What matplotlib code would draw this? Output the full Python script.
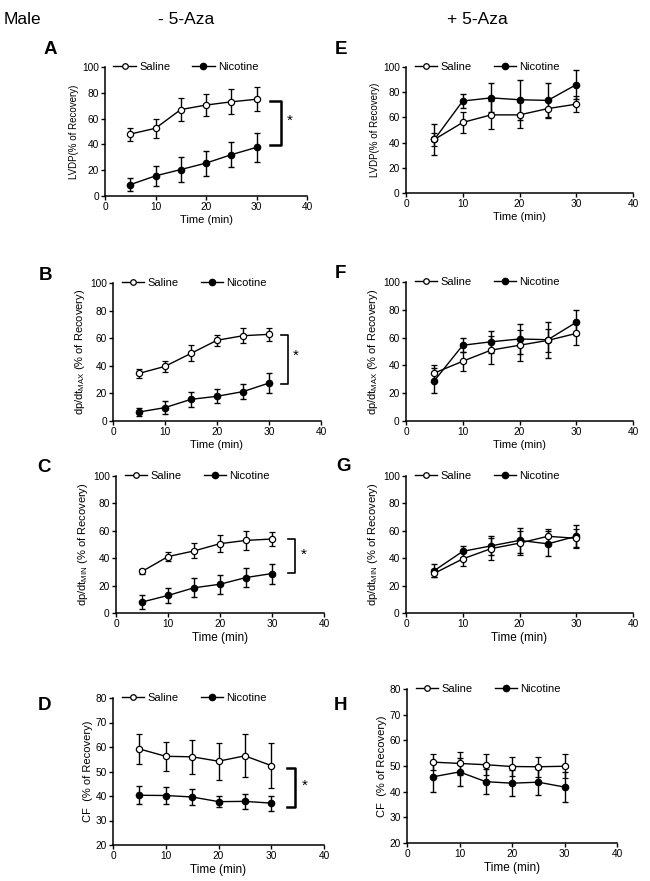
import matplotlib
matplotlib.use("Agg")
import matplotlib.pyplot as plt
from matplotlib.lines import Line2D

plt.rcParams['font.family'] = ['Liberation Sans', 'DejaVu Sans']
plt.rcParams['mathtext.fontset'] = 'custom'
plt.rcParams['mathtext.rm'] = 'Liberation Sans'

time = [5, 10, 15, 20, 25, 30]
series_names = ["Saline", "Nicotine"]

A_sal = [48, 52.5, 67, 70.5, 73, 75]
A_sal_err = [5, 7.5, 8.8, 8.5, 9.6, 9.2]
A_nic = [8.8, 15.6, 20.5, 25.5, 32, 37.7]
A_nic_err = [5.2, 7.8, 10, 9.7, 9.6, 11.2]

E_sal = [42.5, 56, 62, 62, 67, 70.5]
E_sal_err = [5.5, 8.5, 11, 10.5, 7, 6.5]
E_nic = [42.5, 73, 75.5, 74, 73.5, 86]
E_nic_err = [12, 5.5, 11.5, 16, 13.7, 11.5]

B_sal = [34.5, 39.6, 49, 58.5, 61.8, 62.8]
B_sal_err = [3, 4, 5.8, 4, 5.3, 4.7]
B_nic = [6.5, 9.7, 15.7, 17.9, 21.3, 27.5]
B_nic_err = [3, 4.5, 5.3, 5.2, 5.2, 7]

F_sal = [34.5, 43, 51, 54.5, 58, 63]
F_sal_err = [5.5, 7, 10, 11, 8.5, 8]
F_nic = [29, 54.5, 57, 59, 58.5, 71]
F_nic_err = [9, 5, 8, 11, 13, 9]

C_sal = [30.3, 41.2, 45.3, 50.6, 53, 54]
C_sal_err = [1.7, 3.6, 5.5, 6.4, 7, 5.3]
C_nic = [8, 12.8, 18.4, 21, 25.9, 28.8]
C_nic_err = [5, 5.8, 7, 7, 7, 7.3]

G_sal = [29, 39.5, 47, 51, 56, 54.5]
G_sal_err = [3, 5, 8, 9, 5, 7]
G_nic = [31, 45, 49, 53, 50.5, 56]
G_nic_err = [5, 4, 7, 9, 9, 8]

D_sal = [59.2, 56.2, 56, 54.2, 56.4, 52.4]
D_sal_err = [6, 6, 7, 7.5, 8.8, 9.2]
D_nic = [40.3, 40.2, 39.6, 37.7, 37.8, 37.1]
D_nic_err = [3.7, 3.6, 3.1, 2.2, 3, 3.1]

H_sal = [51.5, 51, 50.5, 49.8, 49.7, 49.9]
H_sal_err = [3, 4.4, 4, 3.8, 4, 4.6]
H_nic = [45.8, 47.7, 43.9, 43.3, 43.7, 41.8]
H_nic_err = [5.9, 5.6, 5, 5, 5.1, 6]

ylab_lvdp = "LVDP(% of Recovery)"
ylab_max = r"dp/dt$_\mathregular{MAX}$ (% of Recovery)"
ylab_min = r"dp/dt$_\mathregular{MIN}$ (% of Recovery)"
ylab_cf = "CF  (% of Recovery)"
xlab = "Time (min)"

fig = plt.figure(figsize=(6.5, 8.81), dpi=100)
W, H = 650, 881

def ax_at(x0, x1, y0, y1):
    return fig.add_axes([x0 / W, 1 - y1 / H, (x1 - x0) / W, (y1 - y0) / H])

def panel(box, sal, sal_err, nic, nic_err, ylim, yticks, ylabel, yfs, xfs,
          letter, lpos, bracket=None, blw=1.2):
    ax = ax_at(*box)
    ax.errorbar(time, nic, yerr=nic_err, color='black', marker='o', ms=4.5,
                mfc='black', mec='black', lw=1.0, capsize=2.5, elinewidth=1.0,
                capthick=1.0, zorder=3)
    ax.errorbar(time, sal, yerr=sal_err, color='black', marker='o', ms=4.5,
                mfc='white', mec='black', mew=0.9, lw=1.0, capsize=2.5,
                elinewidth=1.0, capthick=1.0, zorder=4)
    ax.set_xlim(0, 40)
    ax.set_ylim(*ylim)
    ax.set_xticks([0, 10, 20, 30, 40])
    ax.set_yticks(yticks)
    for s in ['top', 'right']:
        ax.spines[s].set_visible(False)
    for s in ['left', 'bottom']:
        ax.spines[s].set_linewidth(1.1)
    ax.tick_params(direction='out', length=3, width=1.0, labelsize=7.3, pad=1.5)
    ax.set_ylabel(ylabel, fontsize=yfs, labelpad=2)
    ax.set_xlabel(xlab, fontsize=xfs, labelpad=2)
    handles = [
        Line2D([], [], color='black', lw=1.0, marker='o', ms=4, mfc='white',
               mec='black', mew=0.9),
        Line2D([], [], color='black', lw=1.0, marker='o', ms=4.5, mfc='black',
               mec='black'),
    ]
    ax.legend(handles, series_names, loc='center left',
              bbox_to_anchor=(0.02, 1.0), ncol=2, frameon=False, fontsize=8,
              handlelength=2.0, handletextpad=0.3, columnspacing=2.0,
              borderaxespad=0)
    if bracket is not None:
        bx0, bx1, by0, by1, sx, sy = bracket
        ax.plot([bx0, bx1, bx1, bx0], [by1, by1, by0, by0], color='black',
                lw=blw, clip_on=False)
        ax.text(sx, sy, "*", fontsize=11, ha='center', va='center')
    fig.text(lpos[0] / W, 1 - lpos[1] / H, letter, fontsize=13.5,
             fontweight='bold', ha='left', va='center')
    return ax

panel((105, 307, 67, 196), A_sal, A_sal_err, A_nic, A_nic_err, (0, 100),
      [0, 20, 40, 60, 80, 100], ylab_lvdp, 7, 8, "A", (44, 50),
      bracket=(32.7, 34.9, 39.2, 74, 36.6, 58), blw=1.8)
panel((406, 633, 67, 193), E_sal, E_sal_err, E_nic, E_nic_err, (0, 100),
      [0, 20, 40, 60, 80, 100], ylab_lvdp, 7, 8, "E", (335, 50))
panel((113, 321, 283, 421), B_sal, B_sal_err, B_nic, B_nic_err, (0, 100),
      [0, 20, 40, 60, 80, 100], ylab_max, 8, 8, "B", (39, 275),
      bracket=(32.3, 33.7, 26.6, 62.6, 35.2, 47), blw=1.2)
panel((406, 633, 282, 421), F_sal, F_sal_err, F_nic, F_nic_err, (0, 100),
      [0, 20, 40, 60, 80, 100], ylab_max, 8, 8, "F", (335, 274))
panel((116, 324, 476, 613), C_sal, C_sal_err, C_nic, C_nic_err, (0, 100),
      [0, 20, 40, 60, 80, 100], ylab_min, 8, 8.5, "C", (37, 468),
      bracket=(33.1, 34.5, 29.3, 54, 36.1, 42.5), blw=1.2)
panel((406, 633, 476, 613), G_sal, G_sal_err, G_nic, G_nic_err, (0, 100),
      [0, 20, 40, 60, 80, 100], ylab_min, 8, 8.5, "G", (336, 466))
panel((113, 324, 698, 845), D_sal, D_sal_err, D_nic, D_nic_err, (20, 80),
      [20, 30, 40, 50, 60, 70, 80], ylab_cf, 8, 8.5, "D", (38, 705),
      bracket=(32.9, 34.5, 35.7, 51.5, 36.3, 44), blw=1.8)
panel((407, 617, 689, 843), H_sal, H_sal_err, H_nic, H_nic_err, (20, 80),
      [20, 30, 40, 50, 60, 70, 80], ylab_cf, 8, 8.5, "H", (334, 705))

fig.text(4 / W, 1 - 20 / H, "Male", fontsize=12.5, ha='left', va='center')
fig.text(186 / W, 1 - 20 / H, "- 5-Aza", fontsize=12.5, ha='center', va='center')
fig.text(477 / W, 1 - 20 / H, "+ 5-Aza", fontsize=12.5, ha='center', va='center')

fig.savefig("out.png", dpi=100)
